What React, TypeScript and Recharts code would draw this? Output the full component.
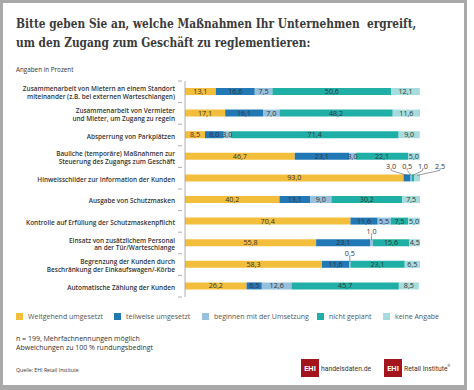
import { BarChart, Bar, XAxis, YAxis, LabelList } from "recharts";

const categories = [
  "Zusammenarbeit von Mietern an einem Standort|miteinander (z.B. bei externen Warteschlangen)",
  "Zusammenarbeit von Vermieter|und Mieter, um Zugang zu regeln",
  "Absperrung von Parkplätzen",
  "Bauliche (temporäre) Maßnahmen zur|Steuerung des Zugangs zum Geschäft",
  "Hinweisschilder zur Information der Kunden",
  "Ausgabe von Schutzmasken",
  "Kontrolle auf Erfüllung der Schutzmaskenpflicht",
  "Einsatz von zusätzlichem Personal|an der Tür/Warteschlange",
  "Begrenzung der Kunden durch|Beschränkung der Einkaufswagen/-Körbe",
  "Automatische Zählung der Kunden",
];

const weitgehend = [13.1, 17.1, 8.5, 46.7, 93.0, 40.2, 70.4, 55.8, 58.3, 26.2];
const teilweise = [16.6, 16.1, 8.0, 23.1, 3.0, 13.1, 11.6, 23.1, 11.6, 6.5];
const beginnen = [7.5, 7.0, 3.0, 3.0, 0.5, 9.0, 5.5, 1.0, 0.5, 12.6];
const nichtGeplant = [50.6, 48.2, 71.4, 22.1, 1.0, 30.2, 7.5, 15.6, 23.1, 45.7];
const keineAngabe = [12.1, 11.6, 9.0, 5.0, 2.5, 7.5, 5.0, 4.5, 6.5, 8.5];

const series = [
  { key: "weitgehend", name: "Weitgehend umgesetzt", color: "#f3be3b" },
  { key: "teilweise", name: "teilweise umgesetzt", color: "#2278b5" },
  { key: "beginnen", name: "beginnen mit der Umsetzung", color: "#96c0de" },
  { key: "nicht", name: "nicht geplant", color: "#1fafa6" },
  { key: "keine", name: "keine Angabe", color: "#a6dcdd" },
];

const data = categories.map((name, i) => ({
  name,
  weitgehend: weitgehend[i],
  teilweise: teilweise[i],
  beginnen: beginnen[i],
  nicht: nichtGeplant[i],
  keine: keineAngabe[i],
}));

const fmt = (v: number) => v.toFixed(1).replace(".", ",");
const LABEL_FONT = "'Open Sans', sans-serif";
const TEXT = "#333";

// Hinweisschilder: the tiny segments get spread-out callouts
const calloutShift: Record<string, number> = {
  teilweise: -16,
  beginnen: -4,
  nicht: 10,
  keine: 23,
};

const makeLabel = (key: string) => (props: any) => {
  const { x, y, width, height, value, index } = props;
  const cx = x + width / 2;
  const cy = y + height / 2;
  const crowded = index === 4 && key !== "weitgehend";
  if (crowded || (key === "beginnen" && value < 2)) {
    const lx = cx + (crowded ? calloutShift[key] : 0);
    const ly = y - 5;
    return (
      <g>
        <line x1={lx} y1={ly + 1} x2={cx} y2={y + 1} stroke="#555" strokeWidth={0.6} />
        <text
          x={lx}
          y={ly}
          textAnchor="middle"
          fontSize={7.2}
          fontFamily={LABEL_FONT}
          fill={TEXT}
        >
          {fmt(value)}
        </text>
      </g>
    );
  }
  return (
    <text
      x={cx}
      y={cy + 2.5}
      textAnchor="middle"
      fontSize={7.2}
      fontFamily={LABEL_FONT}
      fill={TEXT}
    >
      {fmt(value)}
    </text>
  );
};

const CategoryTick = (props: any) => {
  const { x, y, payload, index } = props;
  const lines = String(payload.value).split("|");
  const half = payload.offset ?? 10.8;
  const ax = x + 5;
  const lh = 7.7;
  const start = y + 3.5 - ((lines.length - 1) * lh) / 2;
  return (
    <g>
      <line x1={ax - 4} y1={y - half} x2={ax} y2={y - half} stroke="#999" strokeWidth={0.8} />
      {index === categories.length - 1 && (
        <line x1={ax - 4} y1={y + half} x2={ax} y2={y + half} stroke="#999" strokeWidth={0.8} />
      )}
      <text
        x={x - 2}
        y={start}
        textAnchor="end"
        fontSize={6.45}
        fontWeight={600}
        fontFamily={LABEL_FONT}
        fill={TEXT}
      >
        {lines.map((l, i) => (
          <tspan key={i} x={x - 2} dy={i === 0 ? 0 : lh}>
            {l}
          </tspan>
        ))}
      </text>
    </g>
  );
};

export default function App() {
  return (
    <div
      style={{
        position: "absolute",
        left: 0,
        top: 0,
        width: 474,
        height: 390,
        background: "#fff",
        overflow: "hidden",
      }}
    >
      <div
        style={{
          position: "absolute",
          left: 0,
          top: 0,
          width: 467,
          height: 390,
          border: "3px solid #a9a9a9",
          borderBottomWidth: 5,
          boxSizing: "border-box",
        }}
      />
      <div
        style={{
          position: "absolute",
          left: 16,
          top: 14,
          fontFamily: "'DejaVu Serif', serif",
          fontWeight: 700,
          fontSize: 13.5,
          lineHeight: "19px",
          color: "#3b3b3b",
          whiteSpace: "pre",
          transform: "scaleX(0.785)",
          transformOrigin: "left top",
        }}
      >
        {"Bitte geben Sie an, welche Maßnahmen Ihr Unternehmen  ergreift,\num den Zugang zum Geschäft zu reglementieren:"}
      </div>
      <div
        style={{
          position: "absolute",
          left: 16,
          top: 65,
          fontFamily: LABEL_FONT,
          fontSize: 6.3,
          color: TEXT,
        }}
      >
        Angaben in Prozent
      </div>

      <div style={{ position: "absolute", left: 0, top: 0 }}>
        <BarChart
          width={474}
          height={390}
          data={data}
          layout="vertical"
          margin={{ top: 81, right: 54, bottom: 93, left: 0 }}
          barSize={7}
        >
          <XAxis type="number" domain={[0, 100]} hide />
          <YAxis
            type="category"
            dataKey="name"
            width={185}
            axisLine={{ stroke: "#999", strokeWidth: 0.8 }}
            tickLine={false}
            tick={<CategoryTick />}
            interval={0}
          />
          {series.map((s) => (
            <Bar
              key={s.key}
              dataKey={s.key}
              stackId="a"
              fill={s.color}
              isAnimationActive={false}
            >
              <LabelList dataKey={s.key} content={makeLabel(s.key)} />
            </Bar>
          ))}
        </BarChart>
      </div>

      {series.map((s, i) => {
        const xs = [16, 114, 202, 317, 383];
        return (
          <div
            key={s.key}
            style={{
              position: "absolute",
              left: xs[i],
              top: 312,
              display: "flex",
              alignItems: "center",
              fontFamily: LABEL_FONT,
              fontSize: 7,
              color: "#555",
              whiteSpace: "nowrap",
            }}
          >
            <span
              style={{
                display: "inline-block",
                width: 7,
                height: 7,
                background: s.color,
                marginRight: 5,
              }}
            />
            {s.name}
          </div>
        );
      })}

      <div
        style={{
          position: "absolute",
          left: 16,
          top: 334,
          fontFamily: LABEL_FONT,
          fontSize: 7,
          lineHeight: "9px",
          color: TEXT,
        }}
      >
        n = 199, Mehrfachnennungen möglich
        <br />
        Abweichungen zu 100 % rundungsbedingt
      </div>
      <div
        style={{
          position: "absolute",
          left: 16,
          top: 366,
          fontFamily: LABEL_FONT,
          fontSize: 5.2,
          color: TEXT,
        }}
      >
        Quelle: EHI Retail Institute
      </div>

      {[
        { left: 301, text: "handelsdaten.de", sup: false },
        { left: 384, text: "Retail Institute", sup: true },
      ].map((l) => (
        <div
          key={l.text}
          style={{
            position: "absolute",
            left: l.left,
            top: 359,
            height: 18,
            display: "flex",
            alignItems: "center",
            whiteSpace: "nowrap",
          }}
        >
          <span
            style={{
              display: "inline-flex",
              alignItems: "center",
              justifyContent: "center",
              width: 18,
              height: 18,
              background: "#a3141c",
              color: "#fff",
              fontFamily: "Roboto, sans-serif",
              fontWeight: 700,
              fontSize: 7.5,
              marginRight: 2,
            }}
          >
            EHI
          </span>
          <span
            style={{
              fontFamily: "Roboto, sans-serif",
              fontSize: 8,
              color: "#333",
              display: "inline-block",
              transform: "scaleX(0.85)",
              transformOrigin: "left center",
            }}
          >
            {l.text}
            {l.sup && <sup style={{ fontSize: 4 }}>®</sup>}
          </span>
        </div>
      ))}
    </div>
  );
}
